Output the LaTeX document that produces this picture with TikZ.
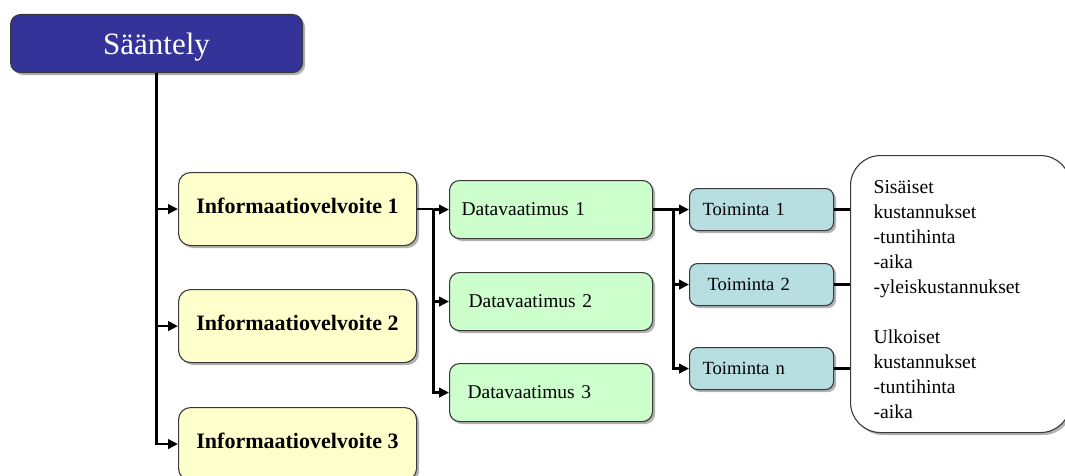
\documentclass[tikz,border=0pt]{standalone}
\usepackage{fontspec}
\setmainfont{Liberation Serif}
\usetikzlibrary{arrows.meta,shadows,calc}

\definecolor{regblue}{HTML}{333399}
\definecolor{infofill}{HTML}{FFFFCC}
\definecolor{datafill}{HTML}{CCFFCC}
\definecolor{actfill}{HTML}{B7DEE1}
\definecolor{edge}{HTML}{3A3A3A}

\tikzset{
  boxbase/.style={draw=edge, line width=1.1pt, anchor=north west,
    drop shadow={shadow xshift=2.5pt, shadow yshift=-2.5pt, fill=black!55, opacity=0.55}},
  topbox/.style={boxbase, fill=regblue, rounded corners=10pt,
    minimum width=292pt, minimum height=58pt, text=white,
    text height=29pt, text depth=7pt,
    font=\fontsize{31}{36}\selectfont},
  infobox/.style={boxbase, fill=infofill, rounded corners=12pt,
    minimum width=238pt, minimum height=73pt,
    text height=16pt, text depth=8pt,
    font=\bfseries\fontsize{22}{26}\selectfont},
  databox/.style={boxbase, fill=datafill, rounded corners=10pt,
    minimum width=203pt, minimum height=58pt, align=left,
    inner xsep=#1, text width=203pt-2*#1,
    font=\fontsize{19.5}{23}\selectfont},
  actbox/.style={boxbase, fill=actfill, rounded corners=8pt,
    minimum width=144pt, minimum height=42pt, align=left,
    inner xsep=#1, text width=144pt-2*#1,
    font=\fontsize{18.6}{22}\selectfont},
  costbox/.style={boxbase, fill=white, rounded corners=30pt,
    minimum width=220pt, minimum height=277pt},
  costtext/.style={align=left, text width=174pt, inner sep=0pt,
    font=\fontsize{19.7}{25}\selectfont},
  conn/.style={line width=2.8pt, draw=black},
  arr/.style={conn, -{Triangle[length=10pt,width=9.5pt]}},
}

\begin{document}
\begin{tikzpicture}[x=1pt, y=-1pt]
  \useasboundingbox (0,0) rectangle (1065,476);

  % regulation
  \node[topbox] (reg) at (10,14) {Sääntely};

  % information obligations
  \node[infobox] (i1) at (178,172) {Informaatiovelvoite 1};
  \node[infobox] (i2) at (178,289) {Informaatiovelvoite 2};
  \node[infobox] (i3) at (178,407) {Informaatiovelvoite 3};

  % data requirements
  \node[databox=12pt] (d1) at (449,180) {Datavaatimus 1};
  \node[databox=19pt] (d2) at (449,272) {Datavaatimus 2};
  \node[databox=18pt] (d3) at (449,363) {Datavaatimus 3};

  % activities
  \node[actbox=13pt] (t1) at (689,188) {Toiminta 1};
  \node[actbox=18pt] (t2) at (689,263) {Toiminta 2};
  \node[actbox=13pt] (tn) at (689,347) {Toiminta n};

  % costs
  \node[costbox] (cost) at (850,155) {};
  \node[costtext] (costtxt) at ($(cost.center)+(0,6)$)
    {Sisäiset\\kustannukset\\-tuntihinta\\-aika\\-yleiskustannukset\\[25pt]Ulkoiset\\kustannukset\\-tuntihinta\\-aika};

  % regulation -> obligations
  \draw[arr] (reg.south) |- (i1.west);
  \draw[arr] (reg.south) |- (i2.west);
  \draw[arr] (reg.south) |- (i3.west);

  % obligation 1 -> data requirements
  \coordinate (j1) at ($(i1.east)+(16,0)$);
  \draw[conn] (i1.east) -- (j1);
  \draw[arr] (j1) |- (d1.west);
  \draw[arr] (j1) |- (d2.west);
  \draw[arr] (j1) |- (d3.west);

  % data requirement 1 -> activities
  \coordinate (j2) at ($(d1.east)+(20,0)$);
  \draw[conn] (d1.east) -- (j2);
  \draw[arr] (j2) |- (t1.west);
  \draw[arr] (j2) |- (t2.west);
  \draw[arr] (j2) |- (tn.west);

  % activities -> costs
  \draw[conn] (t1.east) -- (t1.east -| cost.west);
  \draw[conn] (t2.east) -- (t2.east -| cost.west);
  \draw[conn] (tn.east) -- (tn.east -| cost.west);
\end{tikzpicture}
\end{document}
